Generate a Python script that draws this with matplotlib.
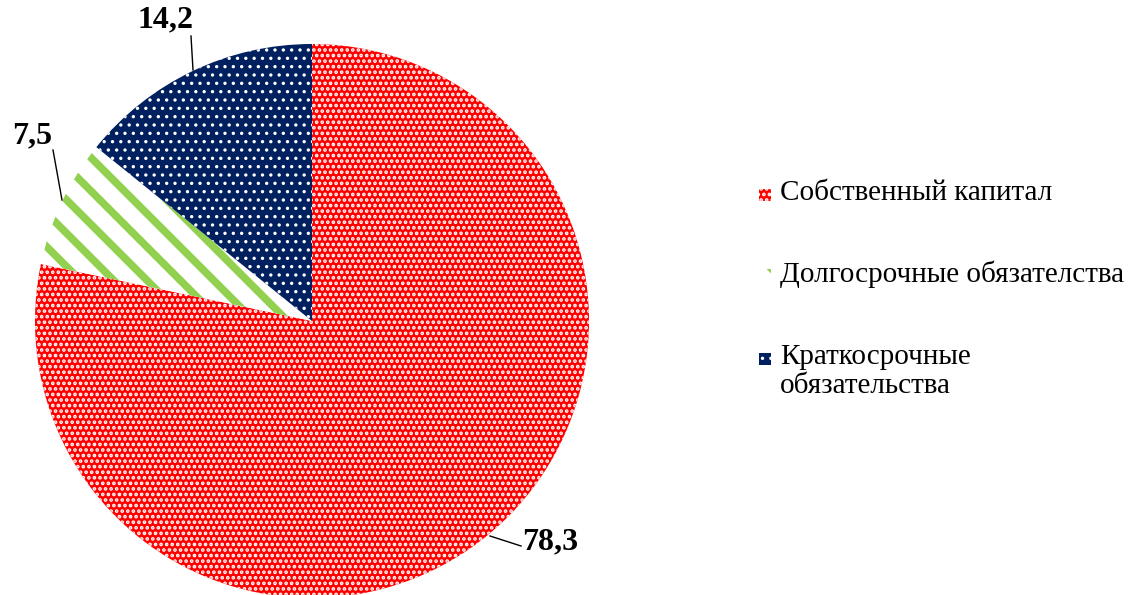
import matplotlib
matplotlib.use("Agg")
import matplotlib.pyplot as plt
import matplotlib.patches as mpatches
import numpy as np

categories = ["Собственный капитал", "Долгосрочные обязателства", "Краткосрочные\nобязательства"]
values = [78.3, 7.5, 14.2]
value_labels = ["78,3", "7,5", "14,2"]
colors = ["#FF0000", "#FFFFFF", "#002060"]
hatch_colors = ["#FFFFFF", "#92D050", "#FFFFFF"]
hatches = ["...", "\\", ".."]
hatch_lw = [1.8, 5.5, 1.2]

plt.rcParams['font.family'] = ['Liberation Serif', 'DejaVu Serif']

W, H, DPI = 1133, 595, 100
fig = plt.figure(figsize=(W / DPI, H / DPI), dpi=DPI)
ax = fig.add_axes([0, 0, 1, 1])
R = 277.0
cx, cy = 312.0, 274.0

wedges, _ = ax.pie(values, startangle=90, counterclock=False, radius=1.0,
                   wedgeprops=dict(linewidth=0))
for w, fc, hc, h, lw in zip(wedges, colors, hatch_colors, hatches, hatch_lw):
    w.set_facecolor(fc)
    w.set_edgecolor(hc)
    w.set_linewidth(0)
    w.set_hatch(h)
    if hasattr(w, "set_hatch_linewidth"):
        w.set_hatch_linewidth(lw)

ax.set_aspect('auto')
ax.set_xlim(-cx / R, (W - cx) / R)
ax.set_ylim(-cy / R, (H - cy) / R)
ax.axis('off')

def px(p):
    return ((p[0] - cx) / R, ((H - p[1]) - cy) / R)

# value labels with leader lines
label_pos = [(550, 542), (32, 136), (166, 20)]
line_pts = [((490, 536), (521, 546)), ((62, 200), (53, 150)), ((193, 70), (191, 36))]
for lab, pos, (a, b) in zip(value_labels, label_pos, line_pts):
    pa, pb = px(a), px(b)
    ax.plot([pa[0], pb[0]], [pa[1], pb[1]], color='black', lw=1)
    tx, ty = px(pos)
    ax.text(tx, ty, lab, fontsize=23, fontweight='bold', ha='center', va='center',
            family='Liberation Serif')

# manual legend
leg_y = [195, 275, 359]
sq = 12
for y, lab, fc, hc, h, lw in zip(leg_y, categories, colors, hatch_colors, hatches, hatch_lw):
    x0, y0 = px((759, y + sq / 2))
    rect = mpatches.Rectangle((x0, y0), sq / R, sq / R, facecolor=fc, edgecolor=hc,
                              hatch=h, linewidth=0)
    if hasattr(rect, "set_hatch_linewidth"):
        rect.set_hatch_linewidth(min(lw, 2.5))
    ax.add_patch(rect)
    tx, ty = px((780, y - 15))
    ax.text(tx, ty, lab, fontsize=21, ha='left', va='top', linespacing=1.15,
            family='Liberation Serif')

plt.savefig("out.png", dpi=DPI)
